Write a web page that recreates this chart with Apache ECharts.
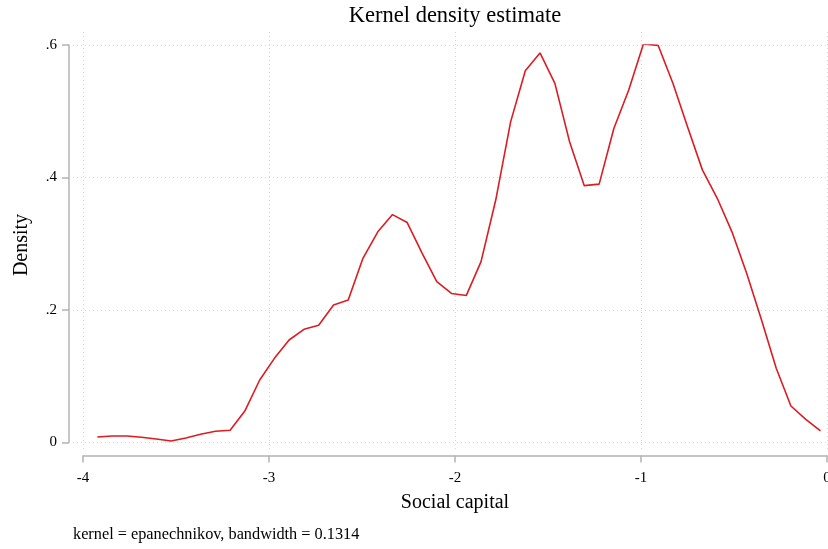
<!DOCTYPE html>
<html>
<head>
<meta charset="utf-8">
<title>Kernel density estimate</title>
<script src="https://cdn.jsdelivr.net/npm/echarts@6/dist/echarts.min.js"></script>
<style>
  html, body { margin: 0; padding: 0; background: #fff; }
  #chart { width: 828px; height: 549px; }
</style>
</head>
<body>
<div id="chart"></div>
<script>
// Evaluation points of the kernel density estimate (Social capital)
const socialCapital = [
  -3.923, -3.844, -3.764, -3.685, -3.606, -3.526, -3.447, -3.368, -3.288, -3.209,
  -3.130, -3.050, -2.971, -2.892, -2.812, -2.733, -2.653, -2.574, -2.495, -2.415,
  -2.336, -2.257, -2.177, -2.098, -2.019, -1.939, -1.860, -1.781, -1.701, -1.622,
  -1.543, -1.463, -1.384, -1.305, -1.225, -1.146, -1.066, -0.987, -0.908, -0.828,
  -0.749, -0.670, -0.590, -0.511, -0.432, -0.352, -0.273, -0.194, -0.114, -0.035
];

// Estimated density at each evaluation point
const density = [
  0.0083, 0.0098, 0.0098, 0.0080, 0.0053, 0.0023, 0.0068, 0.0124, 0.0169, 0.0184,
  0.0475, 0.0943, 0.1270, 0.1547, 0.1708, 0.1769, 0.2075, 0.2151, 0.2780, 0.3180,
  0.3440, 0.3320, 0.2860, 0.2430, 0.2250, 0.2220, 0.2730, 0.3660, 0.4840, 0.5610,
  0.5880, 0.5420, 0.4540, 0.3877, 0.3900, 0.4740, 0.5320, 0.6015, 0.5995, 0.5420,
  0.4760, 0.4115, 0.3686, 0.3180, 0.2554, 0.1850, 0.1120, 0.0551, 0.0350, 0.0174
];

const xTicks = [-4, -3, -2, -1, 0];
const xTickLabels = ['-4', '-3', '-2', '-1', '0'];
const yTicks = [0, 0.2, 0.4, 0.6];
const yTickLabels = ['0', '.2', '.4', '.6'];

const titleText = 'Kernel density estimate';
const xTitle = 'Social capital';
const yTitle = 'Density';
const noteText = 'kernel = epanechnikov, bandwidth = 0.1314';

const serif = '"Liberation Serif", "DejaVu Serif", serif';
const axisGrey = '#b3b3b3';
const gridGrey = '#d6d6d6';

const chart = echarts.init(document.getElementById('chart'), null, { renderer: 'canvas' });

const points = socialCapital.map((x, i) => [x, density[i]]);

chart.setOption({
  animation: false,
  backgroundColor: '#ffffff',
  grid: [
    // plotting region spanning exactly the tick range
    { left: 83, right: 1, top: 45, bottom: 106.5, outerBoundsMode: 'none', containLabel: false },
    // slightly larger region that carries the dotted grid lines
    { left: 73, right: 0, top: 32, bottom: 97, outerBoundsMode: 'none', containLabel: false }
  ],
  xAxis: [
    {
      gridIndex: 0,
      type: 'value',
      min: -4,
      max: 0,
      interval: 1,
      offset: 13,
      axisLine: { show: true, onZero: false, lineStyle: { color: axisGrey, width: 1.5 } },
      axisTick: { show: true, length: 7, lineStyle: { color: axisGrey, width: 1.5 } },
      axisLabel: {
        color: '#000', fontFamily: serif, fontSize: 15, margin: 15,
        formatter: v => xTickLabels[xTicks.indexOf(Math.round(v))]
      },
      splitLine: { show: false }
    },
    {
      gridIndex: 1,
      type: 'value',
      min: -4 - 10 / 186,
      max: 1 / 186,
      axisLine: { show: false, onZero: false },
      axisTick: { show: false, customValues: xTicks },
      axisLabel: { show: false, customValues: xTicks },
      splitLine: { show: true, lineStyle: { color: gridGrey, width: 1, type: [1, 3] } }
    }
  ],
  yAxis: [
    {
      gridIndex: 0,
      type: 'value',
      min: 0,
      max: 0.6,
      interval: 0.2,
      offset: 14,
      axisLine: { show: true, onZero: false, lineStyle: { color: axisGrey, width: 1.5 } },
      axisTick: { show: true, length: 7, lineStyle: { color: axisGrey, width: 1.5 } },
      axisLabel: {
        color: '#000', fontFamily: serif, fontSize: 15, margin: 12,
        formatter: v => yTickLabels[Math.round(v / 0.2)]
      },
      splitLine: { show: false }
    },
    {
      gridIndex: 1,
      type: 'value',
      min: -9.5 / 662.5,
      max: 0.6 + 13 / 662.5,
      axisLine: { show: false, onZero: false },
      axisTick: { show: false, customValues: yTicks },
      axisLabel: { show: false, customValues: yTicks },
      splitLine: { show: true, lineStyle: { color: gridGrey, width: 1, type: [1, 3] } }
    }
  ],
  series: [
    {
      type: 'line',
      xAxisIndex: 0,
      yAxisIndex: 0,
      data: points,
      showSymbol: false,
      symbol: 'none',
      smooth: false,
      lineStyle: { color: '#dc1c22', width: 1.6 },
      z: 5
    }
  ],
  graphic: [
    {
      type: 'text', x: 455, y: 16,
      style: { text: titleText, font: '22.5px ' + serif, fill: '#000', align: 'center', verticalAlign: 'middle' }
    },
    {
      type: 'text', x: 455, y: 503,
      style: { text: xTitle, font: '20px ' + serif, fill: '#000', align: 'center', verticalAlign: 'middle' }
    },
    {
      type: 'text', x: 22, y: 245, rotation: Math.PI / 2,
      style: { text: yTitle, font: '20px ' + serif, fill: '#000', align: 'center', verticalAlign: 'middle' }
    },
    {
      type: 'text', x: 73, y: 535,
      style: { text: noteText, font: '16.3px ' + serif, fill: '#000', align: 'left', verticalAlign: 'middle' }
    }
  ]
});
</script>
</body>
</html>
